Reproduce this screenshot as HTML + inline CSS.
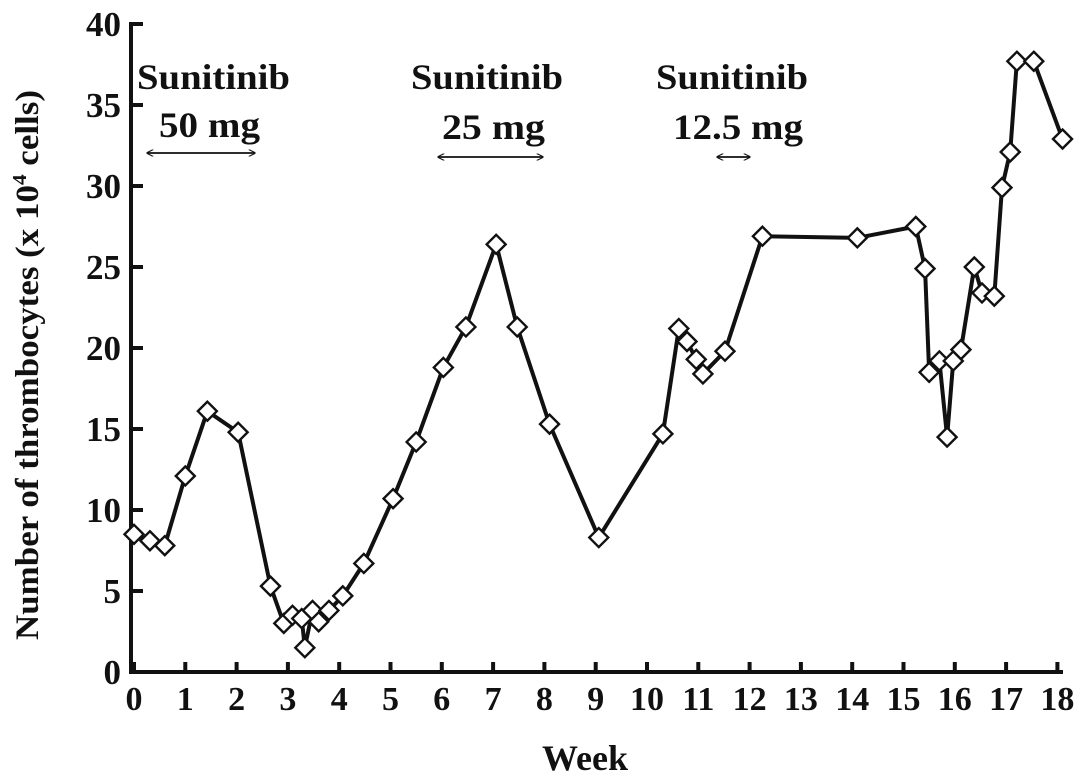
<!DOCTYPE html>
<html><head><meta charset="utf-8"><style>
html,body{margin:0;padding:0;background:#fff}
svg{display:block;font-family:"Liberation Serif",serif;font-weight:bold}
</style></head><body>
<svg id="chart" width="1087" height="782" viewBox="0 0 1087 782">
<defs>
<marker id="ah" viewBox="0 0 10 10" refX="9" refY="5" markerWidth="7" markerHeight="7" orient="auto-start-reverse" markerUnits="userSpaceOnUse"><path d="M0,0 L10,5 L0,10" fill="none" stroke="#111" stroke-width="1.6"/></marker>
</defs>
<g id="axes"></g>
<g id="series"></g>
<g id="annot" fill="#111" font-size="36">
<text x="137" y="89" textLength="153" lengthAdjust="spacingAndGlyphs">Sunitinib</text>
<text x="159" y="137" textLength="101" lengthAdjust="spacingAndGlyphs">50 mg</text>
<line x1="147" y1="153" x2="255" y2="153" stroke="#111" stroke-width="1.8" marker-start="url(#ah)" marker-end="url(#ah)"/>
<text x="411" y="89" textLength="152" lengthAdjust="spacingAndGlyphs">Sunitinib</text>
<text x="442" y="139" textLength="103" lengthAdjust="spacingAndGlyphs">25 mg</text>
<line x1="438" y1="157" x2="543" y2="157" stroke="#111" stroke-width="1.8" marker-start="url(#ah)" marker-end="url(#ah)"/>
<text x="656" y="89" textLength="152" lengthAdjust="spacingAndGlyphs">Sunitinib</text>
<text x="673" y="139" textLength="130" lengthAdjust="spacingAndGlyphs">12.5 mg</text>
<line x1="717" y1="157" x2="750" y2="157" stroke="#111" stroke-width="1.8" marker-start="url(#ah)" marker-end="url(#ah)"/>
</g>
<text x="585" y="770" text-anchor="middle" font-size="36" fill="#111">Week</text>
<text transform="translate(38,365) rotate(-90)" text-anchor="middle" font-size="33" textLength="550" lengthAdjust="spacingAndGlyphs" fill="#111">Number of thrombocytes (x 10<tspan dy="-12" font-size="20">4</tspan><tspan dy="12"> cells)</tspan></text>
</svg>
<script>
const weeks = [0,0.31,0.6,1.0,1.43,2.03,2.66,2.92,3.09,3.27,3.33,3.48,3.6,3.8,4.07,4.48,5.05,5.5,6.03,6.47,7.06,7.47,8.1,9.06,10.31,10.62,10.78,10.96,11.09,11.52,12.25,14.1,15.24,15.42,15.5,15.7,15.85,15.97,16.12,16.38,16.53,16.77,16.92,17.08,17.21,17.54,18.1];
const counts = [8.5,8.1,7.8,12.1,16.1,14.8,5.3,3.0,3.5,3.3,1.5,3.8,3.1,3.8,4.7,6.7,10.7,14.2,18.8,21.3,26.4,21.3,15.3,8.3,14.7,21.2,20.4,19.3,18.4,19.8,26.9,26.8,27.5,24.9,18.5,19.2,14.5,19.2,19.9,25.0,23.4,23.2,29.9,32.1,37.7,37.7,32.9];
const xTicks = [0,1,2,3,4,5,6,7,8,9,10,11,12,13,14,15,16,17,18];
const yTicks = [0,5,10,15,20,25,30,35,40];
const NS='http://www.w3.org/2000/svg';
const X0=134, XS=51.3, Y0=672, YS=16.2;
const xs = v => X0 + v*XS;
const ys = v => Y0 - v*YS;
function mk(t,a,p){const e=document.createElementNS(NS,t);for(const k in a)e.setAttribute(k,a[k]);p.appendChild(e);return e;}
const ax=document.getElementById('axes');
const yAxis=mk('line',{x1:131,y1:ys(40)-2,x2:131,y2:Y0+2,stroke:'#111','stroke-width':4},ax);


const xAxis=mk('line',{x1:129,y1:Y0,x2:1063,y2:Y0,stroke:'#111','stroke-width':4},ax);


yTicks.forEach(v=>{
  const tk=mk('line',{x1:131,y1:ys(v),x2:143,y2:ys(v),stroke:'#111','stroke-width':4},ax);
  
  
  const t=mk('text',{x:121,y:ys(v)+12,'text-anchor':'end','font-size':35,fill:'#111'},ax);
  t.textContent=v;
  
  
});
xTicks.forEach(v=>{
  const tk=mk('line',{x1:xs(v),y1:Y0,x2:xs(v),y2:Y0-10,stroke:'#111','stroke-width':4},ax);
  
  
  const t=mk('text',{x:xs(v),y:710,'text-anchor':'middle','font-size':34,fill:'#111'},ax);
  t.textContent=v;
  
  
});
const sg=document.getElementById('series');
const line=mk('polyline',{points:weeks.map((w,i)=>xs(w)+','+ys(counts[i])).join(' '),fill:'none',stroke:'#111','stroke-width':4,'stroke-linejoin':'round'},sg);


weeks.forEach((w,i)=>{
  const cx=xs(w), cy=ys(counts[i]), r=9.5;
  const d=mk('polygon',{points:`${cx},${cy-r} ${cx+r},${cy} ${cx},${cy+r} ${cx-r},${cy}`,fill:'#fff',stroke:'#111','stroke-width':2.4},sg);
  
  
});
</script>
</body></html>
